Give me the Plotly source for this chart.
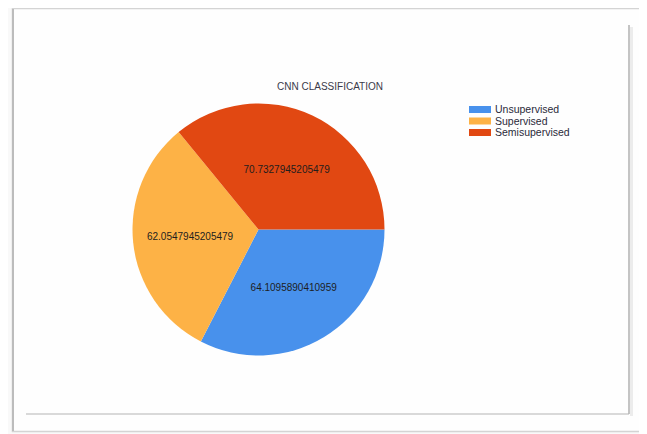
import plotly.graph_objects as go

# The page keeps an 8px body margin, so the figure fills the rest of the window
OFF = 8
W, H = 647 - OFF, 434 - OFF

# ---- data ----
labels = ["Unsupervised", "Supervised", "Semisupervised"]
values = [64.1095890410959, 62.0547945205479, 70.7327945205479]
colors = ["#4891EC", "#FDB246", "#E14812"]
title_text = "CNN CLASSIFICATION"

def px(x):
    return (x - OFF) / W

def py(y):
    return 1 - (y - OFF) / H

cx, cy, R = 258.5, 229.5, 126

fig = go.Figure()
fig.add_trace(go.Pie(
    labels=labels,
    values=values,
    text=[repr(v) for v in values],
    textinfo="text",
    textposition="inside",
    insidetextorientation="horizontal",
    insidetextfont=dict(family="Liberation Sans, Arial, sans-serif", size=10, color="#1e1e1e"),
    marker=dict(colors=colors, line=dict(width=0)),
    sort=False,
    direction="clockwise",
    rotation=90,
    hole=0,
    showlegend=False,
    domain=dict(x=[px(cx - R), px(cx + R)], y=[py(cy + R), py(cy - R)]),
))

shapes = []
# outer frame
shapes.append(dict(type="rect", xref="paper", yref="paper",
                   x0=px(12.5), x1=px(660), y0=py(431.5), y1=py(8.5),
                   line=dict(color="#d4d4d4", width=1.5), fillcolor="#fefefe", layer="below"))
shapes.append(dict(type="line", xref="paper", yref="paper",
                   x0=px(13), x1=px(13), y0=py(9), y1=py(431),
                   line=dict(color="#bcbcbc", width=2), layer="below"))
# inner chart border (right and bottom)
shapes.append(dict(type="line", xref="paper", yref="paper",
                   x0=px(631.5), x1=px(631.5), y0=py(27), y1=py(416),
                   line=dict(color="#ececec", width=3), layer="below"))
shapes.append(dict(type="line", xref="paper", yref="paper",
                   x0=px(629), x1=px(629), y0=py(25), y1=py(414),
                   line=dict(color="#8a8a8a", width=1), layer="below"))
shapes.append(dict(type="line", xref="paper", yref="paper",
                   x0=px(26), x1=px(629), y0=py(414), y1=py(414),
                   line=dict(color="#b4b4b4", width=1.2), layer="below"))

# custom legend
annotations = []
leg_x0, leg_y0, leg_dy = 469, 109.5, 11.5
for i, (lab, col) in enumerate(zip(labels, colors)):
    yc = leg_y0 + i * leg_dy
    shapes.append(dict(type="rect", xref="paper", yref="paper",
                       x0=px(leg_x0), x1=px(leg_x0 + 22), y0=py(yc + 3.5), y1=py(yc - 3.5),
                       line=dict(width=0), fillcolor=col))
    annotations.append(dict(text=lab, xref="paper", yref="paper",
                            x=px(leg_x0 + 24), y=py(yc), xanchor="left", yanchor="middle",
                            showarrow=False,
                            font=dict(family="Liberation Sans, Arial, sans-serif", size=10.5, color="#2a2a3a")))

fig.update_layout(
    width=W, height=H,
    margin=dict(l=0, r=0, t=0, b=0),
    paper_bgcolor="#f9f9f9",
    plot_bgcolor="#ffffff",
    title=dict(text=title_text, x=px(330), y=py(86), xanchor="center", yanchor="middle",
               xref="paper", yref="paper",
               font=dict(family="Liberation Sans, Arial, sans-serif", size=10, color="#3a3a4a")),
    shapes=shapes,
    annotations=annotations,
)

fig.write_html("out.html")
